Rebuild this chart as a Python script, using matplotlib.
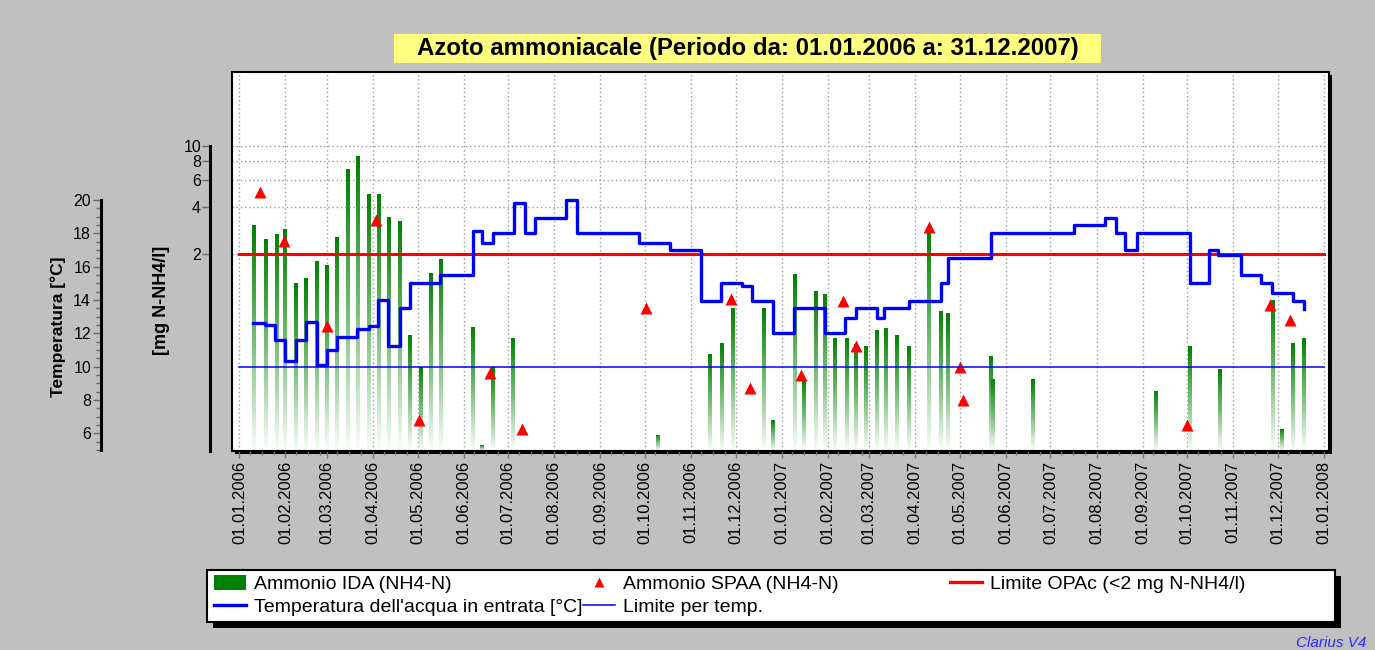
import numpy as np
import matplotlib
matplotlib.use("Agg")
import matplotlib.pyplot as plt
import matplotlib.dates as mdates
import matplotlib.ticker as mticker
from matplotlib.patches import Rectangle, Patch
from matplotlib.lines import Line2D
from matplotlib.colors import LinearSegmentedColormap

plt.rcParams['font.family'] = ['Liberation Sans', 'DejaVu Sans']

# Ammonio IDA (NH4-N) [mg N-NH4/l] - barre
ida_dates = ['2006-01-11', '2006-01-19', '2006-01-26', '2006-02-01', '2006-02-08',
             '2006-02-15', '2006-02-22', '2006-03-01', '2006-03-08', '2006-03-15',
             '2006-03-22', '2006-03-29', '2006-04-05', '2006-04-12', '2006-04-19',
             '2006-04-26', '2006-05-03', '2006-05-10', '2006-05-17', '2006-06-07',
             '2006-06-13', '2006-06-21', '2006-07-04', '2006-10-10', '2006-11-14',
             '2006-11-22', '2006-11-29', '2006-12-20', '2006-12-26', '2007-01-10',
             '2007-01-16', '2007-01-24', '2007-01-30', '2007-02-06', '2007-02-14',
             '2007-02-20', '2007-02-27', '2007-03-06', '2007-03-12', '2007-03-20',
             '2007-03-28', '2007-04-10', '2007-04-18', '2007-04-23', '2007-05-22',
             '2007-05-23', '2007-06-19', '2007-09-10', '2007-10-03', '2007-10-23',
             '2007-11-28', '2007-12-04', '2007-12-11', '2007-12-19']
ida_values = [3.1, 2.5, 2.7, 2.9, 1.3, 1.4, 1.8, 1.7, 2.6, 7.2,
              8.7, 4.9, 4.9, 3.5, 3.3, 0.60, 0.37, 1.52, 1.87, 0.68,
              0.115, 0.37, 0.57, 0.135, 0.45, 0.53, 0.90, 0.90, 0.167, 1.48,
              0.31, 1.15, 1.11, 0.57, 0.575, 0.525, 0.51, 0.65, 0.67, 0.60,
              0.51, 2.85, 0.86, 0.83, 0.44, 0.31, 0.31, 0.26, 0.51, 0.36,
              1.01, 0.146, 0.53, 0.57]

# Ammonio SPAA (NH4-N) [mg N-NH4/l] - triangoli
spaa_dates = ['2006-01-15', '2006-01-31', '2006-03-01', '2006-04-03', '2006-05-02',
              '2006-06-19', '2006-07-10', '2006-10-02', '2006-11-28', '2006-12-11',
              '2007-01-14', '2007-02-11', '2007-02-20', '2007-04-10', '2007-05-01',
              '2007-05-03', '2007-10-01', '2007-11-26', '2007-12-09']
spaa_values = [5.0, 2.4, 0.68, 3.3, 0.166, 0.333, 0.145, 0.88, 1.02, 0.27,
               0.327, 0.99, 0.50, 2.97, 0.366, 0.225, 0.155, 0.92, 0.74]

# Temperatura dell'acqua in entrata [°C]
temp_dates = ['2006-01-10', '2006-01-18', '2006-01-25', '2006-02-01', '2006-02-08',
              '2006-02-15', '2006-02-22', '2006-03-01', '2006-03-08', '2006-03-21',
              '2006-03-29', '2006-04-04', '2006-04-11', '2006-04-19', '2006-04-26',
              '2006-05-16', '2006-06-07', '2006-06-13', '2006-06-21', '2006-07-05',
              '2006-07-12', '2006-07-19', '2006-08-09', '2006-08-16', '2006-09-27',
              '2006-10-18', '2006-11-08', '2006-11-21', '2006-12-05', '2006-12-12',
              '2006-12-26', '2007-01-09', '2007-01-30', '2007-02-13', '2007-02-20',
              '2007-03-06', '2007-03-11', '2007-03-28', '2007-04-18', '2007-04-23',
              '2007-05-22', '2007-07-17', '2007-08-07', '2007-08-14', '2007-08-20',
              '2007-08-28', '2007-10-03', '2007-10-16', '2007-10-22', '2007-11-06',
              '2007-11-20', '2007-11-27', '2007-12-11', '2007-12-19']
temp_values = [12.6, 12.5, 11.6, 10.35, 11.6, 12.7, 10.1, 11.0, 11.8, 12.25,
               12.45, 14.0, 11.25, 13.5, 15.0, 15.5, 18.15, 17.4, 18.0, 19.85,
               18.0, 18.95, 20.0, 18.0, 17.45, 17.0, 13.95, 15.0, 14.85, 13.95,
               12.05, 13.5, 12.05, 12.95, 13.5, 12.95, 13.5, 13.95, 15.0, 16.55,
               18.0, 18.5, 18.95, 18.0, 17.0, 18.0, 15.0, 17.0, 16.7, 15.5,
               15.0, 14.45, 13.95, 13.45]

limit_dates = ['2006-01-01', '2008-01-01']
limit_opac = 2
limit_temp = 10

mg_ticks = [2, 4, 6, 8, 10]
temp_ticks = [6, 8, 10, 12, 14, 16, 18, 20]

W, H = 1375, 650
fig = plt.figure(figsize=(W / 100, H / 100), dpi=100, facecolor='#c0c0c0')


def px_rect(x0, y0, x1, y1):
    # pixel box (top-left origin) -> figure fraction [l, b, w, h]
    return [x0 / W, 1 - y1 / H, (x1 - x0) / W, (y1 - y0) / H]


box = (231.7, 71.7, 1329, 450.7)
ax = fig.add_axes(px_rect(*box))
ax.set_facecolor('white')

# ombra del riquadro
r = px_rect(*box)
fig.patches.append(Rectangle((r[0] + 3 / W, r[1] - 3 / H), r[2], r[3], transform=fig.transFigure,
                             facecolor='black', edgecolor='none', zorder=-1))

ax.set_yscale('log')
ax.set_ylim(0.105, 30.3)
ax.set_xlim(mdates.datestr2num('2005-12-26 19:00'), mdates.datestr2num('2008-01-04 12:00'))
ax.set_autoscale_on(False)

# barre con sfumatura
green = LinearSegmentedColormap.from_list('ida', ['#fbfdfb', '#74bc74', '#008000'])
grad = np.linspace(0, 1, 256).reshape(-1, 1)
to_axes = ax.transData + ax.transAxes.inverted()
ida_x = mdates.datestr2num(ida_dates)
for x, v in zip(ida_x, ida_values):
    top = to_axes.transform((x, v))[1]
    ax.imshow(grad, cmap=green, origin='lower', aspect='auto', interpolation='bilinear',
              extent=(x - 1.35, x + 1.35, 0, top), transform=ax.get_xaxis_transform(), zorder=2)

limit_x = mdates.datestr2num(limit_dates)
ax.plot(limit_x, [limit_opac, limit_opac], color='#ff0000', lw=2.2, zorder=3)
ax.plot(mdates.datestr2num(spaa_dates), spaa_values, linestyle='none', marker='^',
        color='#ff0000', ms=9, mec='none', zorder=4)

# riquadro
ax.add_patch(Rectangle((0, 0), 1, 1, transform=ax.transAxes, fill=False, edgecolor='black',
                       lw=1.5, clip_on=False, zorder=5))
for s in ['top', 'right', 'bottom']:
    ax.spines[s].set_visible(False)
ax.spines['left'].set_position(('outward', 15.6))
ax.spines['left'].set_bounds(0.105, 10)
ax.spines['left'].set_linewidth(2.2)

ax.yaxis.set_major_locator(mticker.FixedLocator(mg_ticks))
ax.yaxis.set_major_formatter(mticker.FixedFormatter([str(t) for t in mg_ticks]))
ax.yaxis.set_minor_locator(mticker.NullLocator())
ax.tick_params(axis='y', which='major', direction='out', length=5.5, width=1, color='#666666',
               labelsize=11.5, pad=1)

ax.xaxis.set_major_locator(mdates.MonthLocator())
ax.xaxis.set_major_formatter(mdates.DateFormatter('%d.%m.%Y'))
ax.xaxis.set_minor_locator(mdates.DayLocator(bymonthday=[8, 16, 24]))
ax.tick_params(axis='x', which='major', direction='out', length=5, width=1, color='#777777',
               labelsize=12, labelrotation=90, pad=2.5)
ax.tick_params(axis='x', which='minor', direction='out', length=3, width=1, color='#777777')

ax.set_axisbelow(True)
ax.grid(True, which='major', linestyle=(0, (1, 2)), color='#999999', lw=1)

# asse temperatura
ax2 = ax.twinx()
ax2.set_ylim(4.96, 27.7)
ax2.plot(limit_x, [limit_temp, limit_temp], color='#0000ff', lw=1.1, zorder=2)
ax2.plot(mdates.datestr2num(temp_dates), temp_values, drawstyle='steps-post', color='#0000ff',
         lw=2.4, zorder=3)
for s in ['top', 'right', 'bottom']:
    ax2.spines[s].set_visible(False)
ax2.spines['left'].set_visible(True)
ax2.spines['left'].set_position(('outward', 94.3))
ax2.spines['left'].set_bounds(5, 20)
ax2.spines['left'].set_linewidth(2.2)
ax2.yaxis.set_ticks_position('left')
ax2.yaxis.set_major_locator(mticker.FixedLocator(temp_ticks))
ax2.yaxis.set_minor_locator(mticker.FixedLocator(np.arange(5, 20.01, 0.5)))
ax2.tick_params(axis='y', which='major', direction='out', length=6, width=1, color='#666666',
                labelsize=11.5, pad=1)
ax2.tick_params(axis='y', which='minor', direction='out', length=3.5, width=1, color='#666666')

fig.text(58 / W, 1 - 327 / H, 'Temperatura [°C]', rotation=90, ha='center', va='center',
         fontsize=12.5, fontweight='bold')
fig.text(162 / W, 1 - 300 / H, '[mg N-NH4/l]', rotation=90, ha='center', va='center',
         fontsize=13, fontweight='bold')

# titolo
tr = px_rect(394, 34, 1101, 62.7)
fig.patches.append(Rectangle(tr[:2], *tr[2:], transform=fig.transFigure,
                             facecolor='#ffff80', edgecolor='none'))
fig.text(747.5 / W, 1 - 49 / H, 'Azoto ammoniacale (Periodo da: 01.01.2006 a: 31.12.2007)',
         ha='center', va='center', fontsize=17.3, fontweight='bold')

# legenda
lr = px_rect(206.7, 570, 1335, 621.5)
fig.patches.append(Rectangle((lr[0] + 6 / W, lr[1] - 6 / H), lr[2], lr[3], transform=fig.transFigure,
                             facecolor='black', edgecolor='none', zorder=-1))
fig.patches.append(Rectangle(lr[:2], *lr[2:], transform=fig.transFigure, facecolor='white',
                             edgecolor='black', lw=1.5, zorder=-0.5))

leg_kw = dict(loc='upper left', frameon=False, fontsize=14, handlelength=1.65,
              handletextpad=0.43, borderpad=0, borderaxespad=0, labelspacing=0.24,
              handleheight=0.8)
anchor_y = 1 - 575 / H
fig.legend([Patch(facecolor='#008000', edgecolor='none'),
            Line2D([], [], color='#0000ff', lw=2.4)],
           ['Ammonio IDA (NH4-N)', "Temperatura dell'acqua in entrata [°C]"],
           bbox_to_anchor=(214 / W, anchor_y), **leg_kw)
fig.legend([Line2D([], [], color='#ff0000', marker='^', linestyle='none', ms=7, mec='none'),
            Line2D([], [], color='#0000ff', lw=1.1)],
           ['Ammonio SPAA (NH4-N)', 'Limite per temp.'],
           bbox_to_anchor=(583 / W, anchor_y), **leg_kw)
fig.legend([Line2D([], [], color='#ff0000', lw=2.4)],
           ['Limite OPAc (<2 mg N-NH4/l)'],
           bbox_to_anchor=(950 / W, anchor_y), **leg_kw)

fig.text(1366 / W, 1 - 643 / H, 'Clarius V4', ha='right', va='center', style='italic',
         color='#2a2aff', fontsize=11)

fig.savefig('out.png', dpi=100, facecolor=fig.get_facecolor())
